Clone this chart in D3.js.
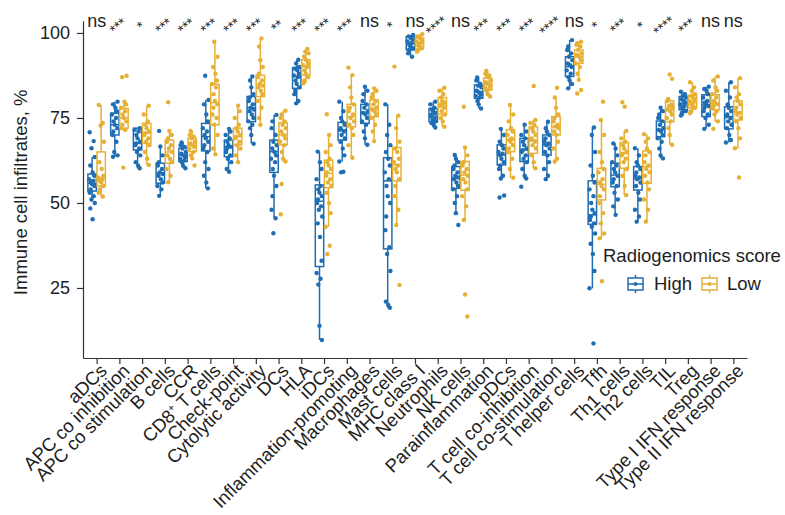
<!DOCTYPE html>
<html>
<head>
<meta charset="utf-8">
<script src="https://cdn.jsdelivr.net/npm/d3@7"></script>
<style>
  body { margin: 0; background: #fff; }
  svg text { font-family: "Liberation Sans", Arial, Helvetica, sans-serif; }
</style>
</head>
<body>
<div id="chart"></div>
<script>
// categories and significance labels
const categories = ['aDCs', 'APC co inhibition', 'APC co stimulation', 'B cells', 'CCR', 'CD8+ T cells',
    'Check-point', 'Cytolytic activity', 'DCs', 'HLA', 'iDCs', 'Inflammation-promoting', 'Macrophages',
    'Mast cells', 'MHC class I', 'Neutrophils', 'NK cells', 'Parainflammation', 'pDCs',
    'T cell co-inhibition', 'T cell co-stimulation', 'T helper cells', 'Tfh', 'Th1 cells', 'Th2 cells',
    'TIL', 'Treg', 'Type I IFN response', 'Type II IFN response'];

const signif = ['ns', '***', '*', '***', '***', '***', '***', '***', '**', '***', '***', '***', 'ns', '*',
    'ns', '****', 'ns', '***', '***', '***', '****', 'ns', '*', '***', '*', '****', '***', 'ns', 'ns'];

const groups = ['High', 'Low'];

// box stats: [lower whisker, q1, median, q3, upper whisker]
const highBox = [
    [50.5, 53.5, 55.8, 58.5, 63.5], [63.6, 70.0, 73.0, 76.4, 79.8], [60.2, 65.6, 67.5, 72.0, 72.0],
    [52.1, 55.8, 58.7, 61.7, 66.6], [60.2, 62.2, 64.1, 66.1, 67.8], [54.3, 65.3, 69.5, 73.4, 80.3],
    [59.2, 63.6, 66.6, 68.5, 71.8], [67.5, 73.9, 78.0, 81.3, 87.2], [45.5, 59.0, 65.1, 68.5, 75.9],
    [79.3, 83.7, 87.3, 89.8, 92.1], [9.7, 31.3, 50.5, 55.3, 65.1], [62.2, 68.5, 71.5, 73.7, 79.8],
    [67.1, 73.4, 76.4, 79.0, 84.2], [19.2, 36.5, 56.5, 63.3, 79.0], [93.0, 95.0, 97.0, 98.9, 99.4],
    [72.2, 73.9, 75.9, 77.8, 79.8], [47.0, 54.3, 57.3, 60.7, 64.1], [77.8, 80.8, 82.7, 84.7, 86.9],
    [57.2, 61.2, 64.1, 67.1, 71.8], [57.2, 62.2, 65.6, 69.0, 73.0], [57.0, 64.1, 67.1, 70.0, 73.9],
    [83.7, 87.2, 90.1, 93.0, 97.9], [24.9, 43.7, 46.5, 56.5, 72.2], [46.5, 54.8, 58.2, 61.7, 67.5],
    [44.5, 53.8, 57.2, 60.7, 66.1], [63.1, 69.5, 71.5, 74.1, 78.0], [75.7, 77.4, 79.3, 81.3, 82.7],
    [71.8, 75.4, 78.8, 81.8, 84.2], [67.8, 71.8, 75.4, 78.3, 85.5]
];

const lowBox = [
    [51.9, 55.0, 57.3, 65.0, 78.8], [71.0, 72.0, 75.0, 77.8, 79.8], [61.2, 67.5, 70.5, 73.4, 78.6],
    [56.1, 61.7, 65.0, 68.5, 71.2], [63.1, 65.1, 67.0, 69.0, 71.2], [64.3, 73.0, 79.5, 84.9, 97.4],
    [62.0, 67.1, 69.5, 72.0, 78.6], [73.0, 81.3, 84.7, 87.6, 98.4], [62.2, 67.1, 70.0, 73.6, 77.1],
    [85.2, 87.6, 90.1, 92.1, 95.3], [43.0, 54.5, 58.7, 62.6, 70.0], [63.3, 72.4, 75.4, 79.0, 87.6],
    [68.2, 75.4, 77.8, 80.3, 83.7], [43.5, 56.5, 61.2, 66.3, 75.7], [94.5, 96.0, 97.3, 98.5, 99.6],
    [72.4, 76.1, 78.8, 81.0, 83.9], [45.0, 53.8, 58.2, 62.2, 66.3], [81.3, 83.2, 84.9, 86.7, 88.8],
    [57.4, 65.1, 68.5, 71.5, 78.8], [60.2, 64.6, 68.5, 72.4, 74.4], [62.2, 70.0, 72.4, 75.4, 81.0],
    [86.2, 91.1, 93.0, 95.0, 97.4], [39.6, 50.9, 55.5, 60.2, 74.4], [52.3, 60.2, 64.6, 67.8, 71.2],
    [44.5, 55.8, 60.7, 65.3, 70.2], [67.1, 73.9, 77.4, 80.0, 80.6], [76.4, 78.0, 79.8, 81.6, 85.5],
    [73.9, 77.4, 79.3, 81.8, 87.2], [66.1, 74.4, 76.7, 80.0, 86.7]
];

// sample points
const highPoints = [
    [70.8, 68.2, 66.1, 63.5, 61, 59, 58, 57, 56.5, 56, 55.5, 55, 54, 53, 52, 51, 50, 48.4, 45.2],
    [79.8, 79, 78, 77, 76, 75, 74, 73, 72, 71, 70, 68, 65, 64, 63.6],
    [72, 71.5, 71, 70, 69, 68, 67.5, 67, 66, 65, 64, 62, 61, 60.2],
    [71.2, 66.6, 64, 62, 61, 60, 59, 58.5, 58, 57, 56, 55, 54, 52.1],
    [67.8, 67, 66.5, 66, 65, 64.5, 64, 63.5, 63, 62.5, 62, 61, 60.2],
    [87.4, 80.3, 79, 76, 74, 72, 71, 70, 69, 68, 67, 66, 65, 62, 60, 58, 56, 54.3],
    [71.8, 71, 70, 69, 68, 67, 66.5, 66, 65, 64, 63, 62, 60, 59.2],
    [87.2, 86, 84, 82, 81, 80, 79, 78, 77.5, 77, 76, 75, 74, 73, 72, 70, 67.4],
    [75.9, 74, 72, 70, 68, 67, 66, 65, 64, 63, 62, 60, 58, 55, 52, 48, 45.5, 41.1],
    [92.1, 91, 90, 89.5, 89, 88, 87.5, 87, 86, 85, 84, 83, 82, 80, 79.3],
    [65.1, 62, 60, 57, 55, 54, 53, 52, 51, 50, 49, 48, 46, 44, 40, 33, 29.4, 27.7, 26, 13.9, 9.7],
    [79.8, 77, 75, 74, 73, 72, 71.5, 71, 70, 69, 68, 66, 64, 62.2, 59.2, 59],
    [84.2, 83, 82, 80, 79, 78, 77, 76.5, 76, 75, 74, 73, 71, 69, 67.1],
    [79, 73, 70, 67, 65, 63, 61, 59, 57, 55, 52, 50, 46, 42, 37, 35, 30, 21, 20, 19.2],
    [99.4, 99, 98.5, 98, 97.5, 97, 96.5, 96, 95.5, 95, 94, 93],
    [79.8, 79, 78, 77.5, 77, 76.5, 76, 75.5, 75, 74.5, 74, 73.5, 73, 72.2],
    [64.1, 63, 62, 61, 60, 59, 58, 57.5, 57, 56, 55, 54, 52, 50, 47, 43.5],
    [86.9, 86, 85, 84.5, 84, 83, 82.5, 82, 81.5, 81, 80, 79, 77.8],
    [71.8, 70, 68, 67, 66, 65, 64.5, 64, 63, 62, 61, 60, 58, 57.2, 52.2, 51.6],
    [73, 71, 70, 69, 68, 67, 66, 65.5, 65, 64, 63, 62, 60, 58, 57.2, 54.8],
    [73.9, 72, 71, 70, 69, 68, 67.5, 67, 66, 65, 64, 62, 60, 58, 57],
    [97.9, 96, 95, 94, 93, 92, 91, 90.5, 90, 89, 88, 87, 86, 85, 83.7],
    [72.2, 70, 65, 61, 58, 56, 54, 52, 50, 48, 47, 46, 45, 44, 43, 41, 38, 35, 30, 24.9, 8.7],
    [67.5, 66, 64, 62, 61, 60, 59, 58, 57, 56, 55, 53, 51, 49, 46.5],
    [66.1, 64, 62, 61, 60, 59, 58, 57.5, 57, 56, 55, 53, 51, 48, 46, 44.5],
    [78, 77, 76, 75, 74, 73, 72, 71.5, 71, 70, 69, 68, 66, 64, 63.1],
    [82.7, 82, 81.5, 81, 80.5, 80, 79.5, 79, 78.5, 78, 77.5, 77, 76.5, 75.7],
    [84.2, 83.5, 83, 82, 81, 80, 79.5, 79, 78.5, 78, 77, 76, 75, 73, 71.8],
    [85.5, 83, 81, 79, 78, 77, 76, 75.5, 75, 74, 73, 72, 70, 68.5, 67.8]
];

const lowPoints = [
    [78.8, 73.5, 72.8, 68, 62, 60, 58, 57.5, 57, 56.5, 56, 55, 54, 53, 51.9],
    [87.4, 87, 79.8, 79, 78, 77, 76, 75, 74, 73, 72, 71.5, 60.4],
    [78.6, 76, 74, 73, 72, 71, 70.5, 70, 69, 68, 67, 65, 63, 61.2],
    [79.6, 71.2, 70, 69, 68, 67, 66, 65, 64, 63, 62, 60, 58, 56.1],
    [71.2, 70, 69.5, 69, 68, 67.5, 67, 66.5, 66, 65, 64, 63.1, 61],
    [97.4, 93, 90, 88, 86, 85, 84, 82, 80, 79, 78, 76, 75, 73, 70, 66, 64.3],
    [78.6, 77, 75, 73, 72, 71, 70, 69.5, 69, 68, 67, 66, 64, 62],
    [98.4, 96, 92, 90, 88, 87, 86, 85, 84.5, 84, 83, 82, 80, 78, 75, 73],
    [77.1, 76, 75, 74, 73, 72, 71, 70, 69, 68, 67, 65, 63, 62.2, 55.6, 46.7],
    [95.3, 94.5, 94, 93, 92, 91, 90.5, 90, 89, 88, 87, 86, 85.2],
    [76.1, 70, 67, 65, 63, 62, 61, 60, 59, 58, 57, 56, 55, 53, 50, 47, 43, 37.4, 35],
    [89.8, 87.6, 84, 81, 79, 78, 77, 76, 75, 74, 73, 72, 70, 67, 63.3],
    [83.7, 83, 82, 81, 80, 79, 78, 77.5, 77, 76, 75, 73, 71, 68.2],
    [90.1, 75.7, 72, 68, 66, 65, 63, 62, 61, 60, 59, 57, 55, 52, 48, 43.5, 25.9],
    [99.6, 99, 98.5, 98, 97.5, 97, 96.5, 96, 95.5, 95, 94.5],
    [83.9, 83, 82, 81, 80, 79.5, 79, 78.5, 78, 77, 76, 75, 74, 72.4],
    [78.3, 66.3, 64, 62, 61, 60, 59, 58, 57, 56, 54, 52, 49, 45, 23.1, 16.6],
    [88.8, 88, 87.5, 87, 86, 85.5, 85, 84.5, 84, 83.5, 83, 82, 81.3],
    [78.8, 76, 74, 72, 71, 70, 69, 68.5, 68, 67, 66, 65, 63, 60, 57.4],
    [84.4, 74.4, 73.5, 73, 72, 71, 70, 69, 68.5, 68, 67, 66, 64, 62, 60.2],
    [83.9, 81, 78, 76, 75, 74, 73, 72.5, 72, 71, 70, 68, 66, 63, 62.2],
    [97.4, 97, 96.5, 96, 95, 94, 93.5, 93, 92, 91, 90, 88, 86.2, 83.2, 82.2],
    [79.8, 74.4, 70, 65, 62, 60, 59, 57, 56, 55, 54, 52, 50, 47, 44, 41, 39.6, 27],
    [79.6, 78.3, 71.2, 69, 68, 67, 66, 65, 64.5, 64, 63, 62, 60, 58, 55, 52.3],
    [70.2, 69, 68, 66, 65, 64, 62, 61, 60, 59, 58, 56, 54, 51, 48, 44.5],
    [87.8, 86.5, 80.6, 80, 79, 78.5, 78, 77.5, 77, 76, 75, 74, 72, 70, 67.1],
    [85.5, 84, 83, 82, 81.5, 81, 80.5, 80, 79.5, 79, 78.5, 78, 77, 76.4],
    [87.2, 86, 84, 83, 82, 81, 80, 79.5, 79, 78.5, 78, 77, 76, 74, 71.8],
    [86.7, 84, 82, 81, 80, 79, 78, 77, 76.5, 76, 75, 74, 72, 69, 66.1, 57.5]
];

const yTicks = [25, 50, 75, 100];

const colors = { High: '#1f6db3', Low: '#e6b035' };
const axisColor = '#333';
const textColor = '#1e1e1e';

const width = 785;
const height = 515;
const plot = { left: 83, right: 747, top: 20.7, bottom: 358 };

const svg = d3.select('#chart').append('svg')
    .attr('width', width)
    .attr('height', height);

// Escales
const x = d3.scalePoint()
    .domain(categories)
    .range([plot.left, plot.right])
    .padding(0.6);

const y = d3.scaleLinear()
    .domain([4.41, 103.6])
    .range([plot.bottom, plot.top]);

const step = x.step();
const dodge = { High: -0.2 * step, Low: 0.2 * step };
const boxW = 8.4;
const jitter = [-2.4, 1.6, -0.6, 2.7, -1.8, 0.5, 2.1, -2.9, 1.1, -1.2, 0, 2.4, -1.5];

// Boxplots
groups.forEach(g => {
    const boxes = g === 'High' ? highBox : lowBox;
    const pts = g === 'High' ? highPoints : lowPoints;
    const col = colors[g];

    categories.forEach((cat, i) => {
        const [lo, q1, med, q3, hi] = boxes[i];
        const cx = x(cat) + dodge[g];
        const gBox = svg.append('g');

        gBox.append('line')
            .attr('x1', cx).attr('x2', cx)
            .attr('y1', y(hi)).attr('y2', y(q3))
            .attr('stroke', col).attr('stroke-width', 1.5);
        gBox.append('line')
            .attr('x1', cx).attr('x2', cx)
            .attr('y1', y(q1)).attr('y2', y(lo))
            .attr('stroke', col).attr('stroke-width', 1.5);
        gBox.append('rect')
            .attr('x', cx - boxW / 2)
            .attr('y', y(q3))
            .attr('width', boxW)
            .attr('height', y(q1) - y(q3))
            .attr('fill', '#fff')
            .attr('stroke', col)
            .attr('stroke-width', 1.5);
        gBox.append('line')
            .attr('x1', cx - boxW / 2).attr('x2', cx + boxW / 2)
            .attr('y1', y(med)).attr('y2', y(med))
            .attr('stroke', col).attr('stroke-width', 1.5);

        // points
        gBox.selectAll('circle')
            .data(pts[i])
            .enter()
            .append('circle')
            .attr('cx', (d, k) => cx + jitter[(k + i * 3) % jitter.length])
            .attr('cy', d => y(d))
            .attr('r', 2.2)
            .attr('fill', col);
    });
});

// Eix Y
const yAxis = svg.append('g')
    .attr('transform', `translate(${plot.left},0)`)
    .call(d3.axisLeft(y).tickValues(yTicks).tickSize(6).tickSizeOuter(0).tickPadding(7));
yAxis.select('.domain').attr('stroke', axisColor).attr('stroke-width', 1.2);
yAxis.selectAll('.tick line').attr('stroke', axisColor).attr('stroke-width', 1.2);
yAxis.selectAll('.tick text')
    .attr('font-size', 18)
    .attr('fill', textColor)
    .style('font-family', '"Liberation Sans", Arial, sans-serif');

svg.append('text')
    .attr('transform', `translate(27,${(plot.top + plot.bottom) / 2 + 3}) rotate(-90)`)
    .attr('text-anchor', 'middle')
    .attr('font-size', 18.5)
    .attr('fill', textColor)
    .text('Immune cell infiltrates, %');

// Eix X
const xAxis = svg.append('g')
    .attr('transform', `translate(0,${plot.bottom})`)
    .call(d3.axisBottom(x).tickSize(6).tickSizeOuter(0));
xAxis.select('.domain').attr('stroke', axisColor).attr('stroke-width', 1.2);
xAxis.selectAll('.tick line').attr('stroke', axisColor).attr('stroke-width', 1.2);
xAxis.selectAll('.tick text').remove();
xAxis.selectAll('.tick').each(function (d) {
    const t = d3.select(this).append('text')
        .attr('transform', 'translate(3,6) rotate(-45)')
        .attr('text-anchor', 'end')
        .attr('dy', '0.6em')
        .attr('font-size', 18.5)
        .attr('fill', textColor)
        .style('font-family', '"Liberation Sans", Arial, sans-serif');
    if (d === 'CD8+ T cells') {
        t.append('tspan').text('CD8');
        t.append('tspan').attr('font-size', 11).attr('dy', '-0.6em').text('+');
        t.append('tspan').attr('dy', '0.36em').text(' T cells');
    } else {
        t.text(d);
    }
});

// Significance labels
categories.forEach((cat, i) => {
    const s = signif[i];
    if (s === 'ns') {
        svg.append('text')
            .attr('x', x(cat))
            .attr('y', 27)
            .attr('text-anchor', 'middle')
            .attr('font-size', 18)
            .attr('fill', textColor)
            .text(s);
    } else {
        svg.append('text')
            .attr('transform', `translate(${x(cat) + 2},${30}) rotate(-40)`)
            .attr('text-anchor', 'middle')
            .attr('font-size', 14.5)
            .attr('fill', textColor)
            .text(s);
    }
});

// Llegenda
const legend = svg.append('g').attr('transform', 'translate(603,0)');
legend.append('text')
    .attr('x', 0)
    .attr('y', 262)
    .attr('font-size', 18.5)
    .attr('fill', textColor)
    .text('Radiogenomics score');

const legendItems = [
    { key: 'High', gx: 25, tx: 51 },
    { key: 'Low', gx: 99, tx: 124 }
];
legendItems.forEach(it => {
    const col = colors[it.key];
    const g = legend.append('g').attr('transform', `translate(${it.gx},284)`);
    g.append('line').attr('x1', 7.5).attr('x2', 7.5).attr('y1', -9).attr('y2', 9)
        .attr('stroke', col).attr('stroke-width', 1.5);
    g.append('rect').attr('x', 0).attr('y', -6).attr('width', 15).attr('height', 12)
        .attr('fill', '#fff').attr('stroke', col).attr('stroke-width', 1.5);
    g.append('line').attr('x1', 0).attr('x2', 15).attr('y1', 0).attr('y2', 0)
        .attr('stroke', col).attr('stroke-width', 1.5);
    g.append('circle').attr('cx', 7.5).attr('cy', 0).attr('r', 2).attr('fill', col);
    legend.append('text')
        .attr('x', it.tx)
        .attr('y', 290)
        .attr('font-size', 18.5)
        .attr('fill', textColor)
        .text(it.key);
});
</script>
</body>
</html>
